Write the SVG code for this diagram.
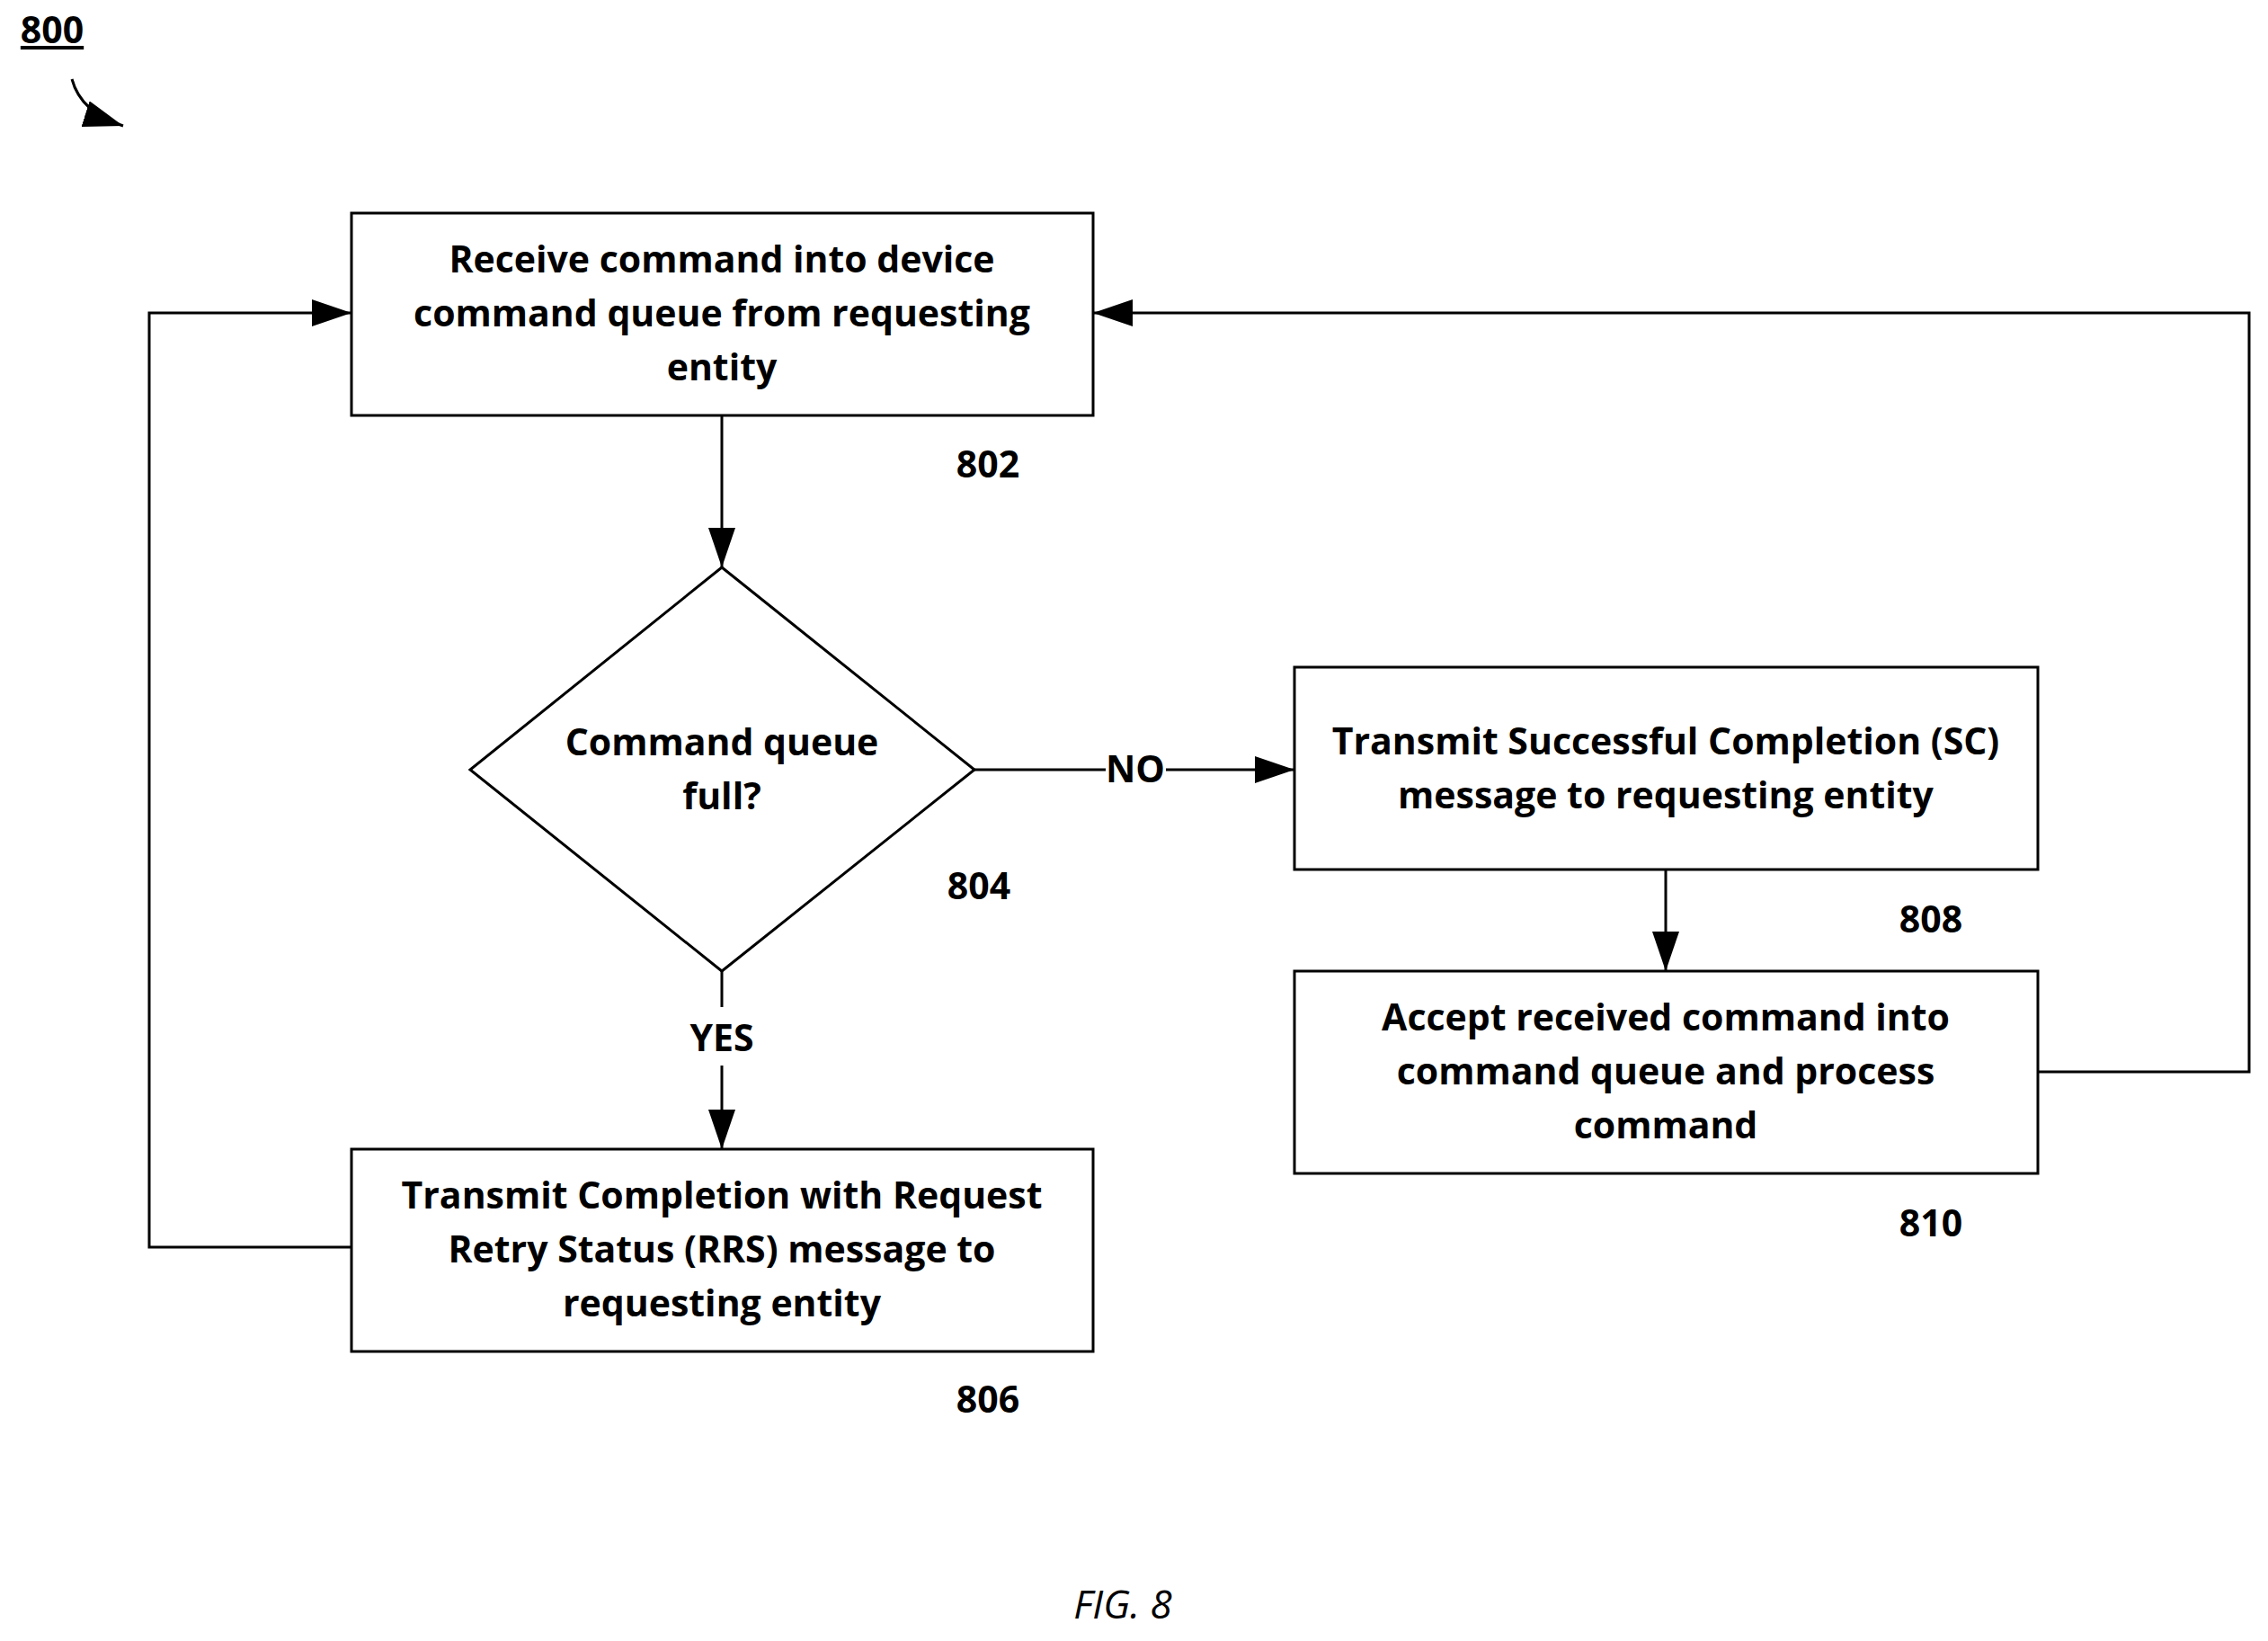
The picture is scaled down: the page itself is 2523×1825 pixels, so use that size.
<svg xmlns="http://www.w3.org/2000/svg" width="2523" height="1825" viewBox="0 0 2523 1825">
<defs>
<marker id="ah" markerWidth="10" markerHeight="8" refX="10" refY="4" orient="auto" markerUnits="userSpaceOnUse" viewBox="0 0 10 8"><path d="M0,0 L10,4 L0,8 Z" fill="#000"/></marker>
<marker id="ah2" markerWidth="44" markerHeight="30" refX="44" refY="15" orient="auto" markerUnits="userSpaceOnUse"><path d="M0,0 L44,15 L0,30 Z" fill="#000"/></marker>
<style>
.b{fill:#fff;stroke:#000;stroke-width:3}
.t{font-family:"Open Sans","Liberation Sans",sans-serif;font-weight:bold;font-size:41px;text-anchor:middle;fill:#000}
.c{fill:none;stroke:#000;stroke-width:3}
</style>
</defs>
<rect width="2523" height="1825" fill="#fff"/>
<g id="ref800">
<text x="58" y="48" class="t" style="text-decoration:underline">800</text>
<path d="M80,88 Q90,125 137,140" class="c" marker-end="url(#ah2)"/>
</g>
<g id="connectors">
<line x1="803" y1="462" x2="803" y2="631" class="c" marker-end="url(#ah2)"/>
<line x1="1084" y1="856" x2="1230" y2="856" class="c"/>
<line x1="1297" y1="856" x2="1440" y2="856" class="c" marker-end="url(#ah2)"/>
<line x1="803" y1="1080" x2="803" y2="1125"/>
<line x1="803" y1="1080" x2="803" y2="1120" class="c"/>
<line x1="803" y1="1185" x2="803" y2="1278" class="c" marker-end="url(#ah2)"/>
<line x1="1853" y1="967" x2="1853" y2="1080" class="c" marker-end="url(#ah2)"/>
<polyline points="391,1387 166,1387 166,348 391,348" class="c" marker-end="url(#ah2)"/>
<polyline points="2267,1192 2502,1192 2502,348 1216,348" class="c" marker-end="url(#ah2)"/>
<text x="1263" y="870" class="t">NO</text>
<text x="803" y="1169" class="t">YES</text>
</g>
<g id="n802">
<rect x="391" y="237" width="825" height="225" class="b"/>
<text class="t" x="803" y="303">Receive command into device</text>
<text class="t" x="803" y="363">command queue from requesting</text>
<text class="t" x="803" y="423">entity</text>
<text class="t" x="1099" y="531">802</text>
</g>
<g id="n804">
<polygon points="803,631 1084,856 803,1080 523,856" class="b"/>
<text class="t" x="803" y="840">Command queue</text>
<text class="t" x="803" y="900">full?</text>
<text class="t" x="1089" y="1000">804</text>
</g>
<g id="n806">
<rect x="391" y="1278" width="825" height="225" class="b"/>
<text class="t" x="803" y="1344">Transmit Completion with Request</text>
<text class="t" x="803" y="1404">Retry Status (RRS) message to</text>
<text class="t" x="803" y="1464">requesting entity</text>
<text class="t" x="1099" y="1571">806</text>
</g>
<g id="n808">
<rect x="1440" y="742" width="827" height="225" class="b"/>
<text class="t" x="1853" y="839">Transmit Successful Completion (SC)</text>
<text class="t" x="1853" y="899">message to requesting entity</text>
<text class="t" x="2148" y="1037">808</text>
</g>
<g id="n810">
<rect x="1440" y="1080" width="827" height="225" class="b"/>
<text class="t" x="1853" y="1146">Accept received command into</text>
<text class="t" x="1853" y="1206">command queue and process</text>
<text class="t" x="1853" y="1266">command</text>
<text class="t" x="2148" y="1375">810</text>
</g>
<text x="1249" y="1800" class="t" style="font-weight:normal;font-style:italic;font-size:44px">FIG. 8</text>
</svg>
